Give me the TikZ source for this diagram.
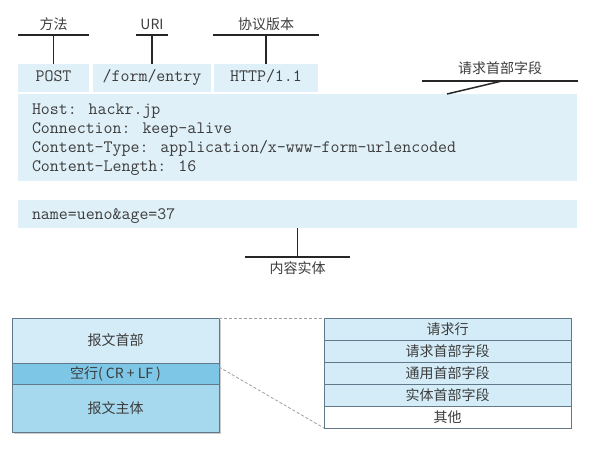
\documentclass[tikz,border=0pt]{standalone}
\usepackage{fontspec}
\usepackage{tikz}
\usetikzlibrary{positioning,shadows}
\newfontfamily\cjk{Noto Sans CJK SC}
\definecolor{ReqBlue}{HTML}{DFF0F8}
\definecolor{HeadBlue}{HTML}{D4ECF7}
\definecolor{BlankBlue}{HTML}{7DC6E6}
\definecolor{BodyBlue}{HTML}{A6D8EE}
\definecolor{EdgeGray}{HTML}{60788A}
\definecolor{TxtGray}{HTML}{3C3C3C}

\begin{document}
\begin{tikzpicture}[x=1pt,y=-1pt,
  field/.style={fill=ReqBlue,inner sep=0pt,outer sep=0pt,text height=11pt,text depth=3.5pt,
    font=\ttfamily\fontsize{17.4}{20}\selectfont,text=TxtGray},
  tag/.style={font=\cjk\fontsize{14}{16}\selectfont,text=TxtGray,inner xsep=0pt,inner ysep=3pt,
    text height=12pt,text depth=2pt},
  bar/.style={line width=1.8pt,black!85},
  stem/.style={line width=1.5pt,black!85},
  part/.style={draw=EdgeGray,line width=0.9pt,minimum width=207pt,inner sep=0pt,outer sep=0pt,
    font=\cjk\fontsize{14}{16}\selectfont,text=TxtGray,
    drop shadow={shadow xshift=2pt,shadow yshift=-2pt,opacity=0.4}},
  row/.style={draw=EdgeGray,line width=0.9pt,fill=HeadBlue,minimum width=247pt,minimum height=22pt,
    inner sep=0pt,outer sep=0pt,font=\cjk\fontsize{14}{16}\selectfont,text=TxtGray},
  zoomline/.style={gray!75,line width=0.8pt,dash pattern=on 3pt off 2pt}
]
  \useasboundingbox (0,0) rectangle (616,448);

  % request line
  \node[field,minimum width=71pt,minimum height=28pt] (post) at (53.5,78) {POST};
  \node[field,minimum width=118pt,minimum height=28pt] (uri) at (152,78) {/form/entry};
  \node[field,minimum width=104pt,minimum height=28pt] (ver) at (266,78) {HTTP/1.1};

  % header fields and body
  \node[field,minimum width=559pt,minimum height=87pt] (hdr) at (297.5,137.5) {};
  \node[field,fill=none,anchor=base west] (h1) at (32,114.3) {Host: hackr.jp};
  \node[field,fill=none,anchor=base west] (h2) at (32,133) {Connection: keep-alive};
  \node[field,fill=none,anchor=base west] (h3) at (32,152) {Content-Type: application/x-www-form-urlencoded};
  \node[field,fill=none,anchor=base west] (h4) at (32,171) {Content-Length: 16};
  \node[field,minimum width=559pt,minimum height=28pt] (body) at (297.5,214) {};
  \node[field,fill=none,anchor=base west] (b1) at (32,219) {name=ueno\&age=37};

  % labels
  \node[tag,minimum width=70pt,anchor=south] (mtag) at (53.5,35) {方法};
  \node[tag,minimum width=32pt,anchor=south] (utag) at (152,35) {URI};
  \node[tag,minimum width=106pt,anchor=south] (vtag) at (266,35) {协议版本};
  \node[tag,minimum width=156pt,anchor=south,inner ysep=5pt] (htag) at (500,81) {请求首部字段};
  \node[tag,minimum width=104pt,anchor=north,inner ysep=4pt] (ctag) at (297.5,257) {内容实体};

  \draw[bar] (mtag.south west) -- (mtag.south east);
  \draw[bar] (utag.south west) -- (utag.south east);
  \draw[bar] (vtag.south west) -- (vtag.south east);
  \draw[bar] (htag.south west) -- (htag.south east);
  \draw[bar] (ctag.north west) -- (ctag.north east);
  \draw[stem] (post.north) -- (mtag.south);
  \draw[stem] (uri.north) -- (utag.south);
  \draw[stem] (ver.north) -- (vtag.south);
  \draw[stem] ([xshift=429pt]hdr.north west) -- ([xshift=2pt]htag.south);
  \draw[stem] (body.south) -- (ctag.north);

  % message layout
  \node[part,fill=HeadBlue,minimum height=45pt] (mhead) at (115.5,340.5) {报文首部};
  \node[part,fill=BlankBlue,minimum height=21pt,below=0pt of mhead] (mblank) {空行( CR + LF )};
  \node[part,fill=BodyBlue,minimum height=48pt,below=0pt of mblank] (mbody) {报文主体};

  \node[row] (r1) at (447.5,329) {请求行};
  \node[row,below=0pt of r1] (r2) {请求首部字段};
  \node[row,below=0pt of r2] (r3) {通用首部字段};
  \node[row,below=0pt of r3] (r4) {实体首部字段};
  \node[row,fill=white,below=0pt of r4] (r5) {其他};

  \draw[zoomline] (mhead.north east) -- (r1.north west);
  \draw[zoomline] ([yshift=-4pt]mblank.north east) -- (r5.south west);
\end{tikzpicture}
\end{document}
